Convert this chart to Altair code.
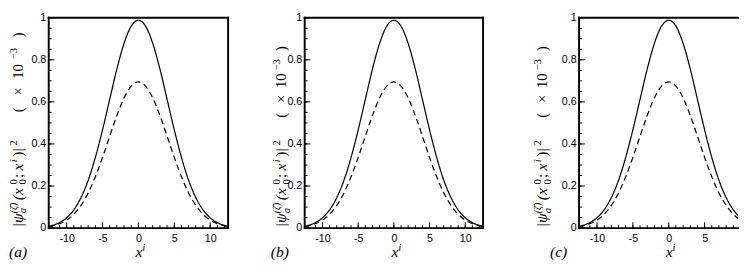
import altair as alt
import pandas as pd

# ---- data (same curves in all three panels) ----
x_vals = [-12.5, -12, -11, -10, -9, -8, -7, -6, -5, -4, -3, -2, -1, 0,
          1, 2, 3, 4, 5, 6, 7, 8, 9, 10, 11, 12, 12.5]
solid_vals = [0.009, 0.013, 0.026, 0.049, 0.087, 0.145, 0.227, 0.336, 0.467, 0.612, 0.756, 0.878, 0.960, 0.988,
              0.960, 0.878, 0.756, 0.612, 0.467, 0.336, 0.227, 0.145, 0.087, 0.049, 0.026, 0.013, 0.009]
dashed_vals = [0.007, 0.011, 0.021, 0.038, 0.066, 0.108, 0.167, 0.244, 0.336, 0.437, 0.535, 0.619, 0.675, 0.695,
               0.675, 0.619, 0.535, 0.437, 0.336, 0.244, 0.167, 0.108, 0.066, 0.038, 0.021, 0.011, 0.007]

x_major = [-10, -5, 0, 5, 10]
x_minor = [-12, -11, -10, -9, -8, -7, -6, -5, -4, -3, -2, -1, 0, 1, 2, 3, 4, 5, 6, 7, 8, 9, 10, 11, 12]
y_major = [0, 0.2, 0.4, 0.6, 0.8, 1.0]
y_minor = [0, 0.05, 0.1, 0.15, 0.2, 0.25, 0.3, 0.35, 0.4, 0.45, 0.5, 0.55, 0.6, 0.65,
           0.7, 0.75, 0.8, 0.85, 0.9, 0.95, 1.0]
panel_letters = ["a", "b", "c"]

# y-axis title |psi_a^(zeta-bar)(x_0^0; x^i)|^2  (x 10^-3), as pieces:
# (text, font size, italic?, shift: 0 base / +1 subscript / -1 superscript)
title_parts = [
    ("|ψ", 16, True, 0), ("a", 11, True, 1), ("(ζ̄)", 10, True, -1),
    ("(x", 16, True, 0), ("0", 11, False, 1), ("0", 11, False, -1),
    (";", 16, False, 0), ("x", 16, True, 0), ("i", 11, True, -1),
    (")|", 16, False, 0), ("2", 11, False, -1),
    ("(", 15, False, 0), ("×", 15, False, 0), ("10", 15, False, 0),
    ("−3", 11, False, -1), (")", 15, False, 0),
]
# distance of each piece's start from the bottom of the title (px), per panel layout
title_dist_a = [0, 15, 15, 29, 46, 46, 53, 61, 70, 76, 88, 124, 142, 160, 181, 205]
title_dist_bc = [0, 15, 15, 29, 46, 46, 53, 61, 70, 76, 88, 118, 134, 150, 169, 190]

H = 217
PX_PER_UNIT = 7.4

curve_df = pd.DataFrame({
    "x": x_vals * 2,
    "value": solid_vals + dashed_vals,
    "series": ["solid"] * len(x_vals) + ["dashed"] * len(x_vals),
})
xmaj_df = pd.DataFrame({"t": x_major})
xmin_df = pd.DataFrame({"t": x_minor})
ymaj_df = pd.DataFrame({"t": y_major})
ymin_df = pd.DataFrame({"t": y_minor})
one = pd.DataFrame({"k": [0]})

SERIF = "Liberation Serif"
SANS = "Liberation Sans"


def text_piece(txt, size, italic, x, y, angle=0):
    kw = dict(font=SERIF, fontSize=size, color="black", align="left",
              baseline="alphabetic", text=txt)
    if italic:
        kw["fontStyle"] = "italic"
    if angle:
        kw["angle"] = angle
    return alt.Chart(one).mark_text(**kw).encode(x=alt.value(x), y=alt.value(y))


def panel(letter, W, xmax, label_dx, title_base, dists, right_frame=True):
    xs = alt.Scale(domain=[-12.5, xmax], nice=False, zero=False)
    ys = alt.Scale(domain=[0, 1], nice=False, zero=False)
    lines = alt.Chart(curve_df).mark_line(color="black", strokeWidth=1.25,
                                          interpolate="monotone", clip=True).encode(
        x=alt.X("x:Q", scale=xs, axis=alt.Axis(
            values=x_major, ticks=False, domain=False, grid=False,
            labelExpr="datum.value < 0 ? '-' + abs(datum.value) : '' + datum.value",
            labelFont=SANS, labelFontSize=11, labelColor="black",
            labelPadding=5, title=None)),
        y=alt.Y("value:Q", scale=ys, axis=alt.Axis(
            values=y_major, format="~g", ticks=False, domain=False, grid=False,
            labelFont=SANS, labelFontSize=11, labelColor="black",
            labelPadding=3, title=None)),
        strokeDash=alt.StrokeDash("series:N", scale=alt.Scale(
            domain=["solid", "dashed"], range=[[1, 0], [6, 4]]), legend=None),
        detail="series:N",
    )
    rule = dict(color="black", strokeWidth=1, clip=True)
    layers = [lines]
    layers.append(alt.Chart(xmin_df).mark_rule(**rule).encode(
        x=alt.X("t:Q", scale=xs, axis=None), y=alt.value(H), y2=alt.value(H - 3)))
    layers.append(alt.Chart(xmaj_df).mark_rule(**rule).encode(
        x=alt.X("t:Q", scale=xs, axis=None), y=alt.value(H), y2=alt.value(H - 6)))
    layers.append(alt.Chart(ymin_df).mark_rule(**rule).encode(
        y=alt.Y("t:Q", scale=ys, axis=None), x=alt.value(0), x2=alt.value(3)))
    layers.append(alt.Chart(ymaj_df).mark_rule(**rule).encode(
        y=alt.Y("t:Q", scale=ys, axis=None), x=alt.value(0), x2=alt.value(6)))
    # frame
    frame = dict(color="black", strokeWidth=2, strokeCap="square")
    layers.append(alt.Chart(one).mark_rule(**frame).encode(
        x=alt.value(0), x2=alt.value(W), y=alt.value(0)))
    layers.append(alt.Chart(one).mark_rule(**frame).encode(
        x=alt.value(0), x2=alt.value(W), y=alt.value(H)))
    layers.append(alt.Chart(one).mark_rule(**frame).encode(
        x=alt.value(0), y=alt.value(0), y2=alt.value(H)))
    if right_frame:
        layers.append(alt.Chart(one).mark_rule(**frame).encode(
            x=alt.value(W), y=alt.value(0), y2=alt.value(H)))
    # y title pieces (rotated)
    bottom = H - 1
    for (txt, size, italic, shift), d in zip(title_parts, dists):
        dx = {0: 0, 1: 4, -1: -6}[shift]
        layers.append(text_piece(txt, size, italic, title_base + dx,
                                 bottom - d * H / 227, angle=270))
    # x title  x^i
    cx = 12.5 * PX_PER_UNIT
    layers.append(text_piece("x", 16, True, cx - 3, H + 30))
    layers.append(text_piece("i", 11, True, cx + 4, H + 24))
    # panel letter (a)
    layers.append(text_piece("(" + letter + ")", 16, True, label_dx, H + 30))
    return alt.layer(*layers).resolve_axis(
        x="independent", y="independent").properties(width=W, height=H)


pa = panel(panel_letters[0], 185, 12.5, -41, -27, title_dist_a)
pb = panel(panel_letters[1], 184, 12.5, -35, -19, title_dist_bc)
pc = panel(panel_letters[2], 164, -12.5 + 164 / PX_PER_UNIT, -30, -33, title_dist_bc,
           right_frame=False)

chart = alt.hconcat(alt.hconcat(pa, pb, spacing=42), pc, spacing=49).properties(
    padding={"left": 0, "top": 0, "right": 0, "bottom": 0}
).configure_view(strokeWidth=0)

chart.save("out.html", embed_options={"renderer": "svg", "actions": False})
